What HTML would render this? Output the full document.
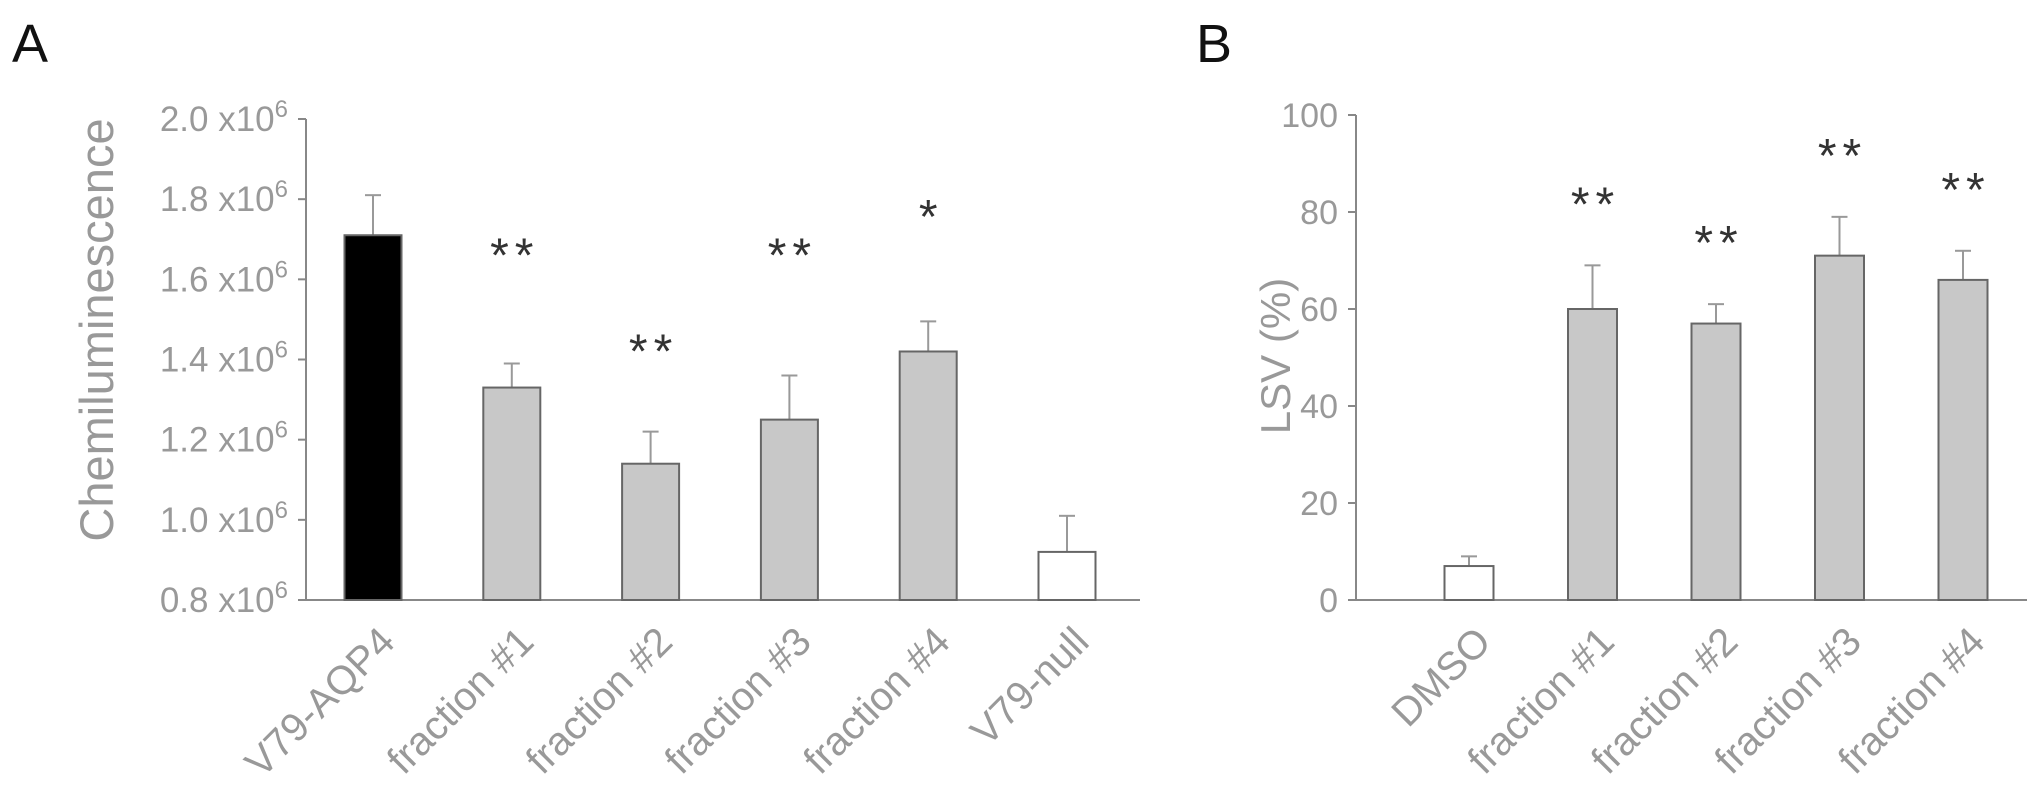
<!DOCTYPE html>
<html><head><meta charset="utf-8"><style>
body{margin:0;background:#fff}
svg{display:block;font-family:"Liberation Sans",sans-serif}
</style></head><body>
<svg id="chart" width="2031" height="793" viewBox="0 0 2031 793">
<text x="12" y="62" font-size="54" fill="#111">A</text>
<text x="1196" y="62" font-size="54" fill="#111">B</text>
<g id="pa"></g>
<g id="pb"></g>
</svg>
<script>
const aCats=["V79-AQP4","fraction #1","fraction #2","fraction #3","fraction #4","V79-null"];
const aVals=[1.71,1.33,1.14,1.25,1.42,0.92];
const aErr=[0.10,0.06,0.08,0.11,0.075,0.09];
const aStars=["","**","**","**","*",""];
const aStarVals=[0,1.685,1.445,1.685,1.78,0];
const aTicks=[0.8,1.0,1.2,1.4,1.6,1.8,2.0];
const aFills=["#000","#c8c8c8","#c8c8c8","#c8c8c8","#c8c8c8","#fff"];
const bCats=["DMSO","fraction #1","fraction #2","fraction #3","fraction #4"];
const bVals=[7,60,57,71,66];
const bErr=[2,9,4,8,6];
const bStars=["","**","**","**","**"];
const bTicks=[0,20,40,60,80,100];
const bFills=["#fff","#c8c8c8","#c8c8c8","#c8c8c8","#c8c8c8"];
const NS="http://www.w3.org/2000/svg";
function mk(p,t,a){const e=document.createElementNS(NS,t);for(const k in a)e.setAttribute(k,a[k]);p.appendChild(e);return e;}
function panel(g,o){
  const y=v=>o.y0+(v-o.vmin)/(o.vmax-o.vmin)*(o.y1-o.y0);
  const x=i=>o.first+i*o.step;
  let e=mk(g,'line',{x1:o.ax,y1:o.y1,x2:o.ax,y2:o.y0,stroke:'#888','stroke-width':2});
  
  e=mk(g,'line',{x1:o.ax-8,y1:o.y0,x2:o.xend,y2:o.y0,stroke:'#888','stroke-width':2});
  
  o.ticks.forEach(t=>{
    const ty=y(t);
    e=mk(g,'line',{x1:o.ax-8,y1:ty,x2:o.ax,y2:ty,stroke:'#888','stroke-width':2});
    
    e=mk(g,'text',{x:o.ax-18,y:ty+12,'font-size':o.tfs,fill:'#999','text-anchor':'end'});
    
    if(o.sci){e.textContent=t.toFixed(1)+' x10';const s=mk(e,'tspan',{dy:-14,'font-size':24});s.textContent='6';}
    else e.textContent=t;
  });
  o.cats.forEach((c,i)=>{
    const cx=x(i),top=y(o.vals[i]),et=y(o.vals[i]+o.err[i]);
    e=mk(g,'line',{x1:cx,y1:top,x2:cx,y2:et,stroke:'#999','stroke-width':2});
    
    e=mk(g,'line',{x1:cx-8,y1:et,x2:cx+8,y2:et,stroke:'#999','stroke-width':2});
    
    e=mk(g,'rect',{x:cx-o.bw/2,y:top,width:o.bw,height:o.y0-top,fill:o.fills[i],stroke:'#666','stroke-width':2});
    
    if(o.stars[i]){
      const sy=o.starVals?y(o.starVals[i]):et-o.starGap;
      e=mk(g,'text',{x:cx+3,y:sy+26,'font-size':48,fill:'#333','text-anchor':'middle','letter-spacing':6});
      
      e.textContent=o.stars[i];
    }
    e=mk(g,'text',{x:cx+24,y:o.y0+44,'font-size':40,fill:'#999','text-anchor':'end',transform:`rotate(-45 ${cx+24} ${o.y0+44})`});
    
    e.textContent=c;
  });
  e=mk(g,'text',{x:o.tx,y:o.ty,'font-size':o.tsz,fill:'#999','text-anchor':'middle',transform:`rotate(-90 ${o.tx} ${o.ty})`});
  
  e.textContent=o.title;
}
panel(document.getElementById('pa'),{cats:aCats,vals:aVals,err:aErr,stars:aStars,starVals:aStarVals,ticks:aTicks,fills:aFills,
 vmin:0.8,vmax:2.0,y0:600,y1:119,ax:306,xend:1140,first:373,step:138.8,bw:57,sci:true,tfs:35,
 tx:113,ty:330,tsz:47,title:"Chemiluminescence"});
panel(document.getElementById('pb'),{cats:bCats,vals:bVals,err:bErr,stars:bStars,ticks:bTicks,fills:bFills,
 vmin:0,vmax:100,y0:600,y1:115,ax:1356,xend:2027,first:1469,step:123.5,bw:49,sci:false,starGap:71,tfs:34,
 tx:1290,ty:356,tsz:42,title:"LSV (%)"});
</script>
</body></html>
